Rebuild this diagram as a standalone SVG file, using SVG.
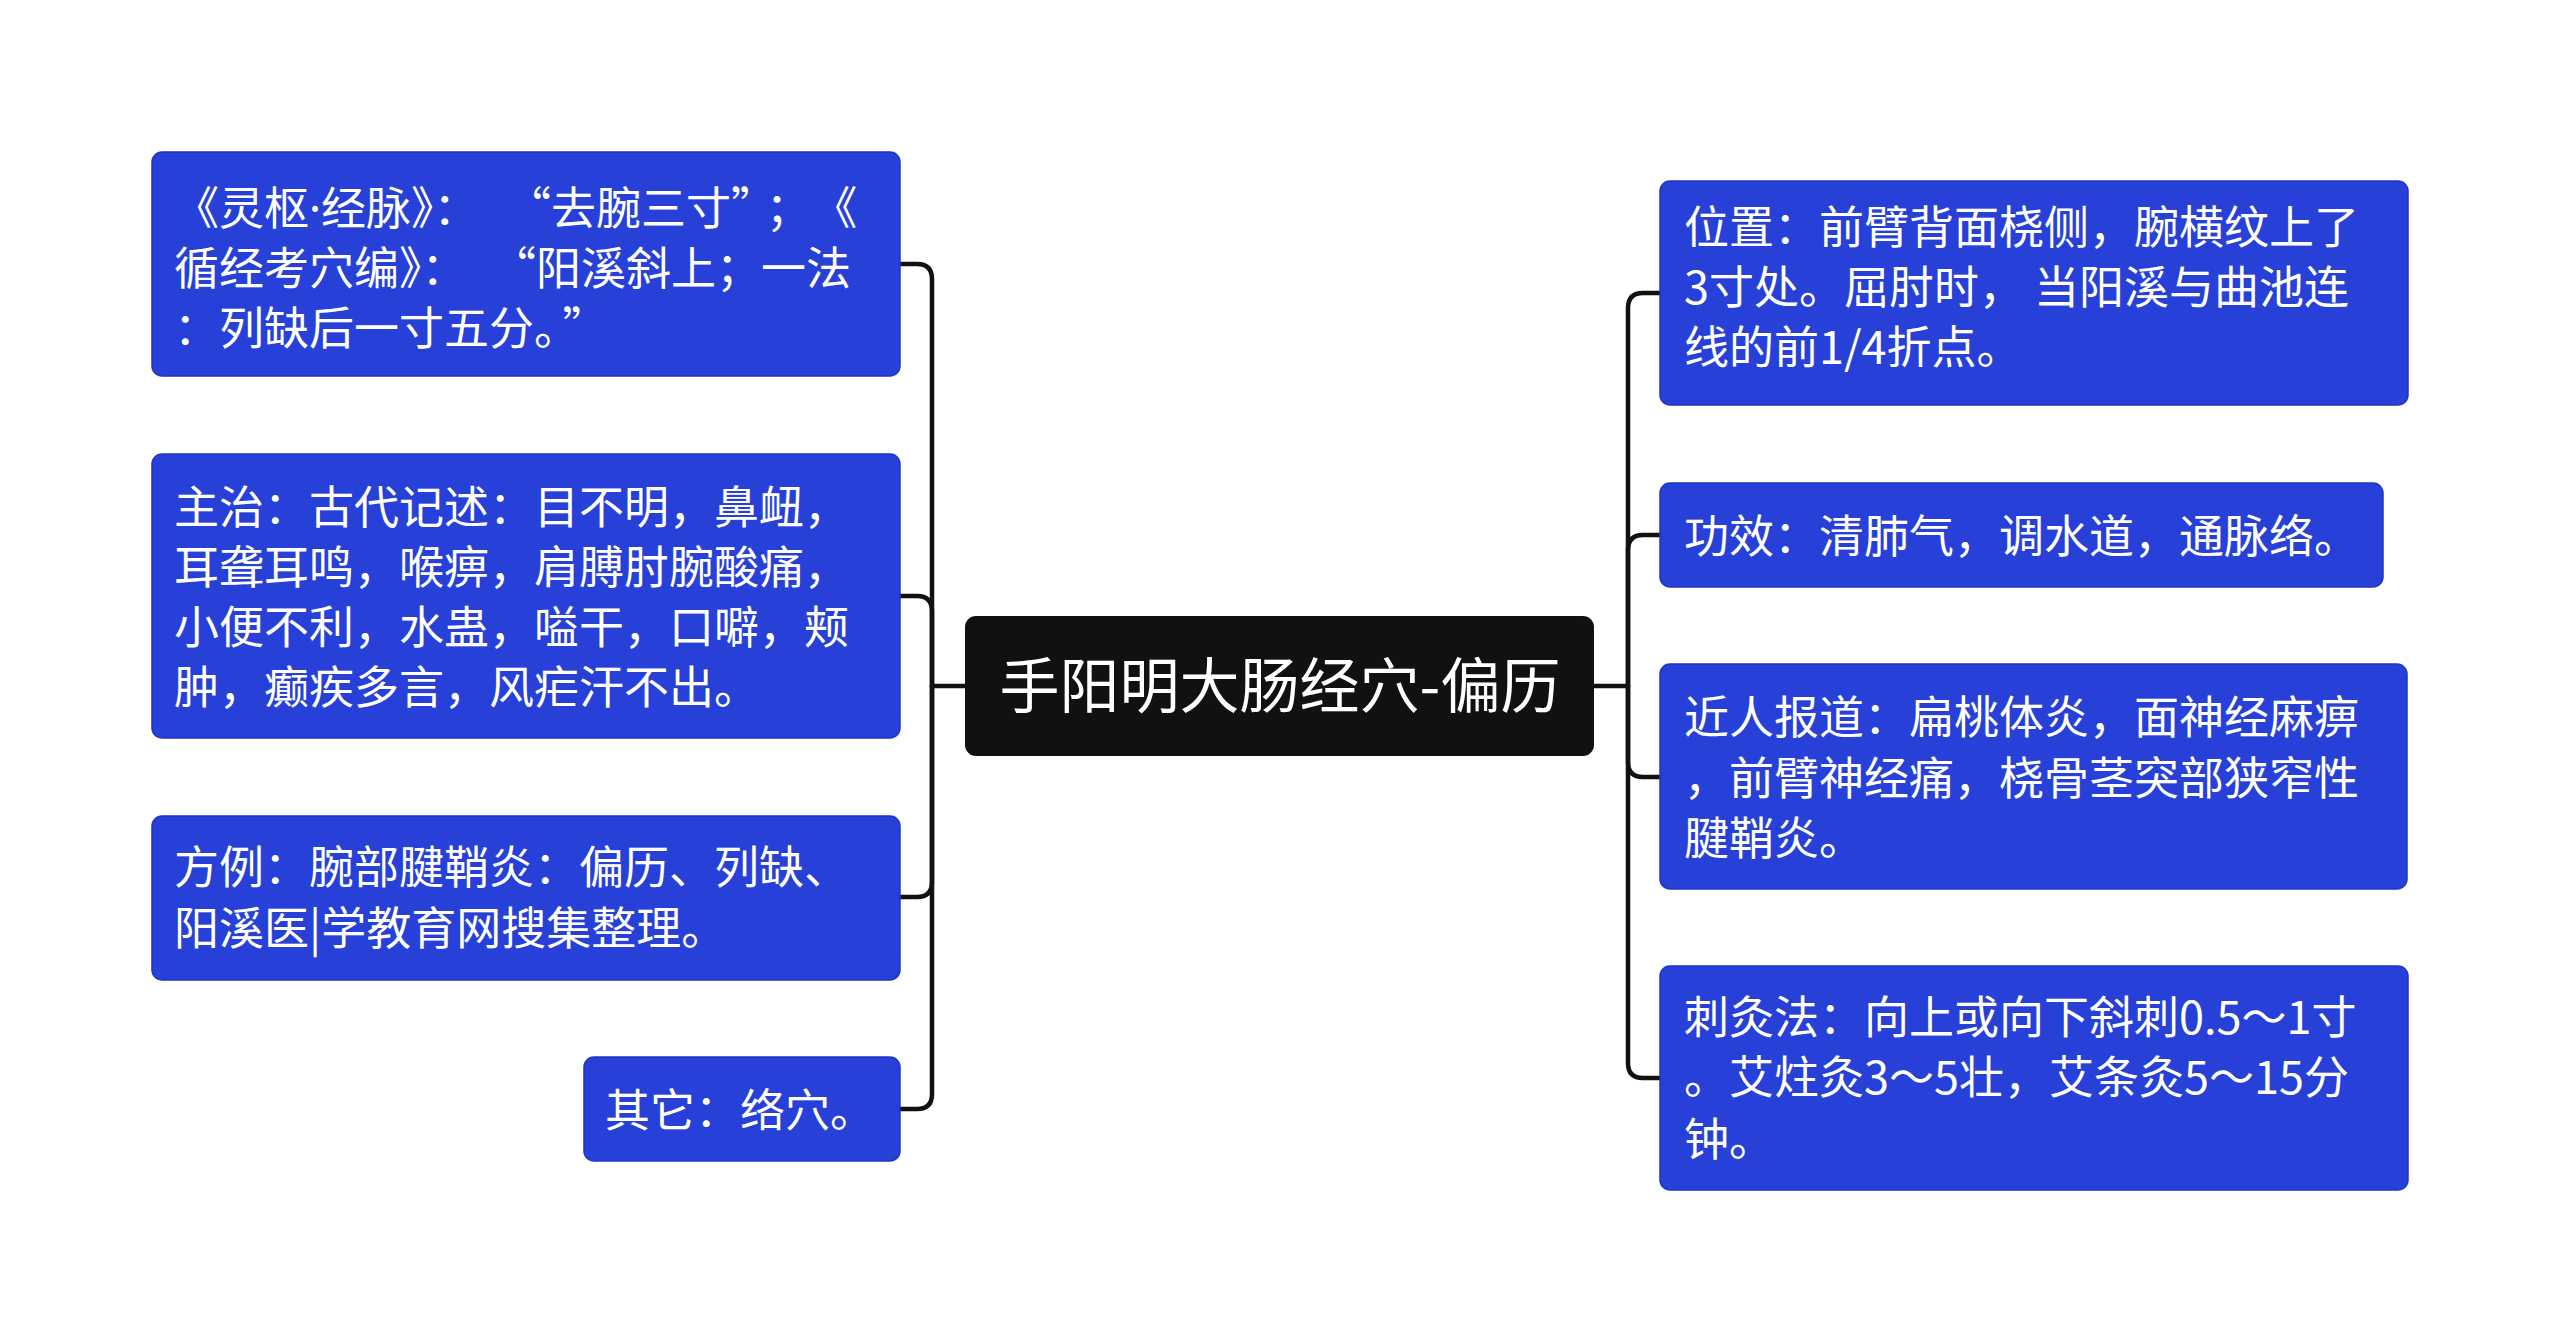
<svg xmlns="http://www.w3.org/2000/svg" width="2560" height="1343" viewBox="0 0 2560 1343">
<style>
.box{fill:#2740d8;stroke:#1f35c4;stroke-width:1.5}
.root{fill:#111111}
.t{font-family:"Noto Sans CJK SC","Noto Sans",sans-serif;font-size:45px;fill:#ffffff}
.rt{font-family:"Noto Sans CJK SC","Noto Sans",sans-serif;font-size:60px;fill:#ffffff}
.dot{font-family:"Noto Sans",sans-serif}
.c{fill:none;stroke:#111111;stroke-width:4.5;stroke-linecap:round;stroke-linejoin:round}
</style>
<rect width="2560" height="1343" fill="#ffffff"/>
<g id="connectors">
<path class="c" d="M965 686 H932"/>
<path class="c" d="M932 686 V279 Q932 264 917 264 H900"/>
<path class="c" d="M932 686 V611 Q932 596 917 596 H900"/>
<path class="c" d="M932 686 V882 Q932 897 917 897 H900"/>
<path class="c" d="M932 686 V1094 Q932 1109 917 1109 H900"/>
<path class="c" d="M1594 686 H1628"/>
<path class="c" d="M1628 686 V308 Q1628 293 1643 293 H1660"/>
<path class="c" d="M1628 686 V550 Q1628 535 1643 535 H1660"/>
<path class="c" d="M1628 686 V762 Q1628 777 1643 777 H1660"/>
<path class="c" d="M1628 686 V1063 Q1628 1078 1643 1078 H1660"/>
</g>
<g id="root">
<rect class="root" x="965" y="616" width="629" height="140" rx="11"/>
<text class="rt" x="1280" y="708" text-anchor="middle">手阳明大肠经穴-偏历</text>
</g>
<g id="n-lingshu">
<rect class="box" x="152" y="152" width="748" height="224" rx="10"/>
<text class="t"><tspan x="174" y="225">《灵枢<tspan class="dot">·</tspan>经脉》：<tspan dx="50">“</tspan>去腕三寸”<tspan dx="12">；</tspan><tspan dx="24">《</tspan></tspan><tspan x="174" y="285">循经考穴编》：<tspan dx="47">“</tspan>阳溪斜上；一法</tspan><tspan x="174" y="345">：列缺后一寸五分。<tspan dx="6">”</tspan></tspan></text>
</g>
<g id="n-zhuzhi">
<rect class="box" x="152" y="454" width="748" height="284" rx="10"/>
<text class="t"><tspan x="174" y="524">主治：古代记述：目不明，鼻衄，</tspan><tspan x="174" y="584">耳聋耳鸣，喉痹，肩膊肘腕酸痛，</tspan><tspan x="174" y="644">小便不利，水蛊，嗌干，口噼，颊</tspan><tspan x="174" y="704">肿，癫疾多言，风疟汗不出。</tspan></text>
</g>
<g id="n-fangli">
<rect class="box" x="152" y="816" width="748" height="164" rx="10"/>
<text class="t"><tspan x="174" y="884">方例：腕部腱鞘炎：偏历、列缺、</tspan><tspan x="174" y="945">阳溪医|学教育网搜集整理。</tspan></text>
</g>
<g id="n-qita">
<rect class="box" x="584" y="1057" width="316" height="104" rx="10"/>
<text class="t" x="605" y="1127">其它：络穴。</text>
</g>
<g id="n-weizhi">
<rect class="box" x="1660" y="181" width="748" height="224" rx="10"/>
<text class="t"><tspan x="1684" y="244">位置：前臂背面桡侧，腕横纹上了</tspan><tspan x="1684" y="304">3寸处。屈肘时， 当阳溪与曲池连</tspan><tspan x="1684" y="364">线的前1/4折点。</tspan></text>
</g>
<g id="n-gongxiao">
<rect class="box" x="1660" y="483" width="723" height="104" rx="10"/>
<text class="t" x="1684" y="553">功效：清肺气，调水道，通脉络。</text>
</g>
<g id="n-jinren">
<rect class="box" x="1660" y="664" width="747" height="225" rx="10"/>
<text class="t"><tspan x="1684" y="734">近人报道：扁桃体炎，面神经麻痹</tspan><tspan x="1684" y="795">，前臂神经痛，桡骨茎突部狭窄性</tspan><tspan x="1684" y="855">腱鞘炎。</tspan></text>
</g>
<g id="n-cijiu">
<rect class="box" x="1660" y="966" width="748" height="224" rx="10"/>
<text class="t"><tspan x="1684" y="1034">刺灸法：向上或向下斜刺0.5～1寸</tspan><tspan x="1684" y="1094">。艾炷灸3～5壮，艾条灸5～15分</tspan><tspan x="1684" y="1156">钟。</tspan></text>
</g>
</svg>
